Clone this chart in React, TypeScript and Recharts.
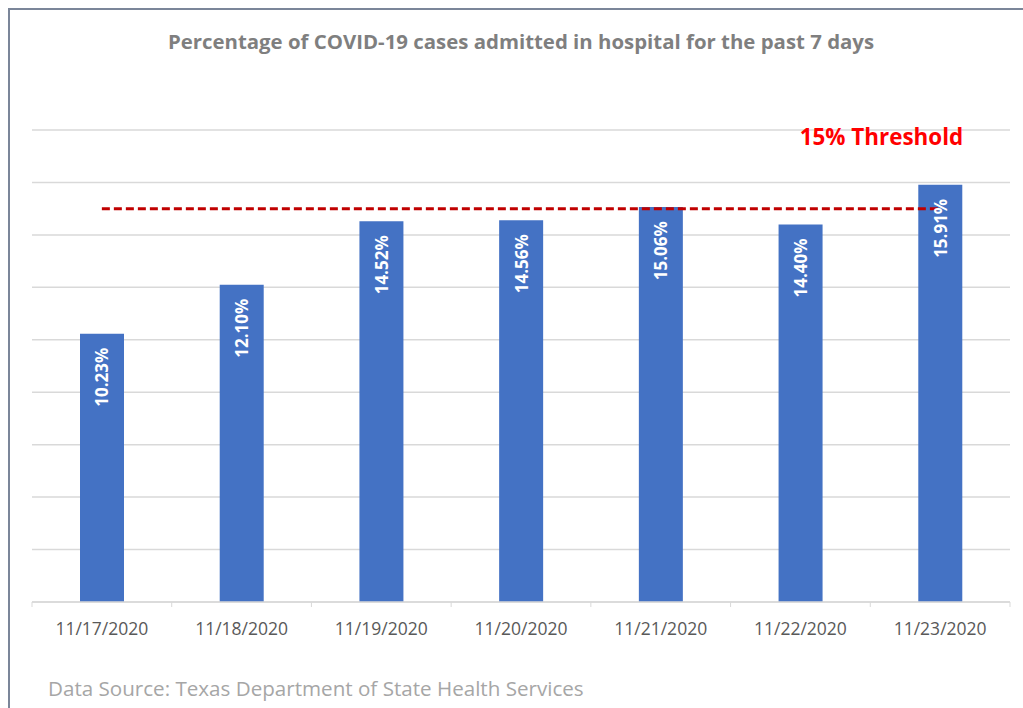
import React from 'react';
import {
  BarChart,
  Bar,
  XAxis,
  YAxis,
  CartesianGrid,
  ReferenceLine,
  LabelList,
} from 'recharts';

const dates = ['11/17/2020', '11/18/2020', '11/19/2020', '11/20/2020', '11/21/2020', '11/22/2020', '11/23/2020'];
const admittedPct = [10.23, 12.1, 14.52, 14.56, 15.06, 14.4, 15.91];
const yTicks = [0, 2, 4, 6, 8, 10, 12, 14, 16, 18];
const threshold = 15;

const data = dates.map((date, i) => ({ date, pct: admittedPct[i] }));

const CHART_W = 1023;
const CHART_H = 708;
const margin = { top: 130, right: 13, bottom: 76, left: 32 };
const bandWidth = (CHART_W - margin.left - margin.right) / dates.length;
const FONT = '"Open Sans", Lato, sans-serif';

const DateTick = (props: any) => {
  const { x, y, payload, index } = props;
  const left = x - bandWidth / 2;
  return (
    <g>
      <line x1={left} y1={y} x2={left} y2={y + 5} stroke="#d9d9d9" />
      {index === dates.length - 1 && (
        <line x1={x + bandWidth / 2} y1={y} x2={x + bandWidth / 2} y2={y + 5} stroke="#d9d9d9" />
      )}
      <text x={x} y={y + 26} textAnchor="middle" dominantBaseline="central" fill="#595959" fontSize={17.5} fontFamily={FONT}>
        {payload.value}
      </text>
    </g>
  );
};

const BarValue = (props: any) => {
  const { x, y, width, value } = props;
  const cx = x + width / 2;
  const ty = y + 14;
  return (
    <text
      x={cx}
      y={ty}
      transform={`rotate(-90, ${cx}, ${ty})`}
      textAnchor="end"
      dominantBaseline="central"
      fill="#ffffff"
      fontWeight="bold"
      fontSize={17}
      fontFamily={FONT}
    >
      {value.toFixed(2)}%
    </text>
  );
};

const ThresholdLabel = (props: any) => {
  const { viewBox } = props;
  const right = viewBox.x + viewBox.width;
  return (
    <text x={right + 23} y={viewBox.y - 72} textAnchor="end" dominantBaseline="central" fill="#ff0000" fontWeight="bold" fontSize={22.4} fontFamily={FONT}>
      15% Threshold
    </text>
  );
};

export default function App() {
  return (
    <div style={{ position: 'absolute', left: 0, top: 0, width: CHART_W, height: CHART_H, background: '#fff', overflow: 'hidden' }}>
      <div style={{ position: 'absolute', left: 8, top: 8, width: CHART_W, height: CHART_H, borderTop: '2px solid #7b8699', borderLeft: '2px solid #7b8699' }} />
      <div style={{ position: 'absolute', left: 32, width: 978, top: 27, textAlign: 'center', fontFamily: FONT, fontWeight: 'bold', fontSize: 20.4, color: '#7f7f7f' }}>
        Percentage of COVID-19 cases admitted in hospital for the past 7 days
      </div>
      <div style={{ position: 'absolute', left: 48, top: 674, fontFamily: FONT, fontSize: 20.6, color: '#a6a6a6' }}>
        Data Source: Texas Department of State Health Services
      </div>
      <div style={{ position: 'absolute', left: 0, top: 0 }}>
        <BarChart width={CHART_W} height={CHART_H} data={data} margin={margin}>
          <CartesianGrid vertical={false} stroke="#d9d9d9" strokeWidth={1.5} />
          <XAxis
            dataKey="date"
            height={30}
            axisLine={{ stroke: '#d9d9d9', strokeWidth: 1.5 }}
            tickLine={false}
            tickSize={0}
            tickMargin={0}
            interval={0}
            tick={<DateTick />}
          />
          <YAxis hide domain={[0, 18]} ticks={yTicks} />
          <Bar dataKey="pct" fill="#4472c4" barSize={44} isAnimationActive={false}>
            <LabelList dataKey="pct" content={<BarValue />} />
          </Bar>
          <ReferenceLine
            segment={[{ x: dates[0], y: threshold }, { x: dates[dates.length - 1], y: threshold }]}
            stroke="#c00000"
            strokeWidth={3}
            strokeDasharray="8 4"
            label={<ThresholdLabel />}
          />
        </BarChart>
      </div>
    </div>
  );
}
